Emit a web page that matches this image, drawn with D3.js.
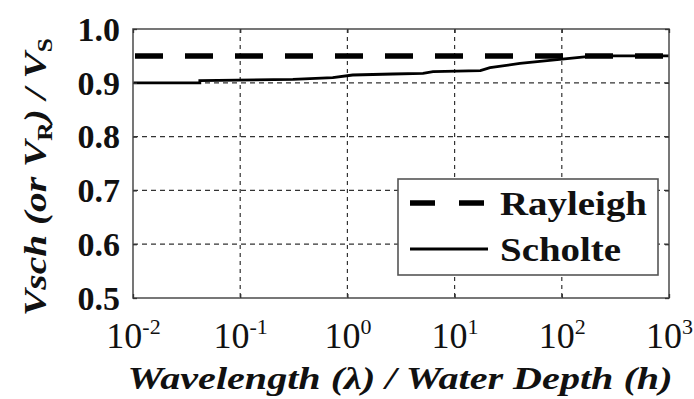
<!DOCTYPE html>
<html>
<head>
<meta charset="utf-8">
<script src="https://cdn.jsdelivr.net/npm/d3@7"></script>
<style>
  body { margin: 0; background: #fff; }
  svg { display: block; }
</style>
</head>
<body>
<div id="chart"></div>
<script>
// data
var xTicks = [0.01, 0.1, 1, 10, 100, 1000];
var xTickExp = ["-2", "-1", "0", "1", "2", "3"];
var yTicks = [0.5, 0.6, 0.7, 0.8, 0.9, 1.0];
var seriesNames = ["Rayleigh", "Scholte"];

var rayleighX = [0.01, 1000];
var rayleighY = [0.95, 0.95];

var scholteX = [0.01, 0.042, 0.042, 0.31, 0.73, 1.12, 2.66, 5.07, 6.3, 17.4, 21.4, 40.7, 95.5, 172, 250, 1000];
var scholteY = [0.900, 0.900, 0.904, 0.9065, 0.9095, 0.9145, 0.9164, 0.9177, 0.9206, 0.9225, 0.928, 0.936, 0.9437, 0.9485, 0.950, 0.950];

var FONT = '"Liberation Serif", "DejaVu Serif", "Times New Roman", serif';

var W = 694, H = 399;
var margin = { top: 29, right: 25, bottom: 101, left: 133 };
var width = W - margin.left - margin.right;
var height = H - margin.top - margin.bottom;

var svg = d3.select("#chart")
  .append("svg")
  .attr("width", W)
  .attr("height", H)
  .style("font-family", FONT);

var g = svg.append("g")
  .attr("transform", "translate(" + margin.left + "," + margin.top + ")");

var x = d3.scaleLog().domain([0.01, 1000]).range([0, width]);
var y = d3.scaleLinear().domain([0.5, 1.0]).range([height, 0]);

// grid
g.selectAll(".vgrid")
  .data(xTicks.slice(1, -1))
  .enter().append("line")
  .attr("x1", function (d) { return x(d); })
  .attr("x2", function (d) { return x(d); })
  .attr("y1", 0).attr("y2", height)
  .attr("stroke", "#333").attr("stroke-width", 1.2)
  .attr("stroke-dasharray", "4,4");

g.selectAll(".hgrid")
  .data(yTicks.slice(1, -1))
  .enter().append("line")
  .attr("x1", 0).attr("x2", width)
  .attr("y1", function (d) { return y(d); })
  .attr("y2", function (d) { return y(d); })
  .attr("stroke", "#333").attr("stroke-width", 1.2)
  .attr("stroke-dasharray", "5,4");

// series
var line = d3.line()
  .x(function (d) { return x(d[0]); })
  .y(function (d) { return y(d[1]); });

g.append("path")
  .datum(d3.zip(scholteX, scholteY))
  .attr("d", line)
  .attr("fill", "none")
  .attr("stroke", "#000")
  .attr("stroke-width", 2.8);

g.append("path")
  .datum(d3.zip(rayleighX, rayleighY))
  .attr("d", line)
  .attr("fill", "none")
  .attr("stroke", "#000")
  .attr("stroke-width", 5.5)
  .attr("stroke-dasharray", "28,22")
  .attr("stroke-dashoffset", -2);

// frame
g.append("rect")
  .attr("x", 0).attr("y", 0)
  .attr("width", width).attr("height", height)
  .attr("fill", "none")
  .attr("stroke", "#555")
  .attr("stroke-width", 1.6);

// axes
var yAxis = g.append("g")
  .call(d3.axisLeft(y).tickValues(yTicks).tickSize(-4).tickPadding(13)
    .tickFormat(d3.format(".1f")));
yAxis.attr("font-family", FONT);
yAxis.select(".domain").remove();
yAxis.selectAll(".tick line").attr("stroke", "#333").attr("stroke-width", 1.3);
yAxis.selectAll(".tick text")
  .attr("font-size", 34)
  .attr("font-weight", "bold")
  .attr("fill", "#111")
  .attr("dy", "0.33em");

var yAxisR = g.append("g")
  .attr("transform", "translate(" + width + ",0)")
  .call(d3.axisRight(y).tickValues(yTicks).tickSize(-4).tickFormat(""));
yAxisR.select(".domain").remove();
yAxisR.selectAll(".tick line").attr("stroke", "#333").attr("stroke-width", 1.3);

var xAxis = g.append("g")
  .attr("transform", "translate(0," + height + ")")
  .call(d3.axisBottom(x).tickValues(xTicks).tickSize(-4).tickPadding(24)
    .tickFormat(function () { return ""; }));
xAxis.attr("font-family", FONT);
xAxis.select(".domain").remove();
xAxis.selectAll(".tick line").attr("stroke", "#333").attr("stroke-width", 1.3);
xAxis.selectAll(".tick text")
  .attr("font-size", 36)
  .attr("fill", "#111")
  .attr("dy", "0.71em")
  .each(function (d, i) {
    var t = d3.select(this);
    t.text(null);
    t.append("tspan").text("10");
    t.append("tspan")
      .attr("font-size", 22)
      .attr("dy", -14)
      .text(xTickExp[i]);
  });

var xAxisT = g.append("g")
  .call(d3.axisTop(x).tickValues(xTicks).tickSize(-4).tickFormat(""));
xAxisT.select(".domain").remove();
xAxisT.selectAll(".tick line").attr("stroke", "#333").attr("stroke-width", 1.3);

// axis titles
svg.append("text")
  .attr("x", 400).attr("y", 389)
  .attr("text-anchor", "middle")
  .attr("font-size", 31)
  .attr("font-style", "italic")
  .attr("font-weight", "bold")
  .attr("fill", "#111")
  .attr("textLength", 545)
  .attr("lengthAdjust", "spacingAndGlyphs")
  .text("Wavelength (λ) / Water Depth (h)");

var yt = svg.append("text")
  .attr("transform", "translate(46,177) rotate(-90)")
  .attr("text-anchor", "middle")
  .attr("font-size", 31)
  .attr("font-style", "italic")
  .attr("font-weight", "bold")
  .attr("fill", "#111")
  .attr("textLength", 278)
  .attr("lengthAdjust", "spacingAndGlyphs");
yt.append("tspan").text("Vsch (or V");
yt.append("tspan").attr("font-size", 20).attr("font-style", "normal").attr("dy", 6).text("R");
yt.append("tspan").attr("dy", -6).text(") / V");
yt.append("tspan").attr("font-size", 20).attr("font-style", "normal").attr("dy", 6).text("S");

// legend
var legend = svg.append("g").attr("transform", "translate(398,179)");
legend.append("rect")
  .attr("width", 260).attr("height", 96)
  .attr("fill", "#fff")
  .attr("stroke", "#555")
  .attr("stroke-width", 1.6);

var legStyles = [
  { w: 5.5, dash: "25,24" },
  { w: 2.8, dash: null }
];

var items = legend.selectAll(".item")
  .data(seriesNames)
  .enter().append("g")
  .attr("transform", function (d, i) { return "translate(0," + (24 + i * 46) + ")"; });

items.append("line")
  .attr("x1", 12).attr("x2", 90)
  .attr("stroke", "#000")
  .attr("stroke-width", function (d, i) { return legStyles[i].w; })
  .attr("stroke-dasharray", function (d, i) { return legStyles[i].dash; });

items.append("text")
  .attr("x", 102).attr("y", 12)
  .attr("font-size", 33)
  .attr("font-weight", "bold")
  .attr("fill", "#111")
  .attr("textLength", function (d, i) { return i === 0 ? 147 : 121; })
  .attr("lengthAdjust", "spacingAndGlyphs")
  .text(function (d) { return d; });
</script>
</body>
</html>
